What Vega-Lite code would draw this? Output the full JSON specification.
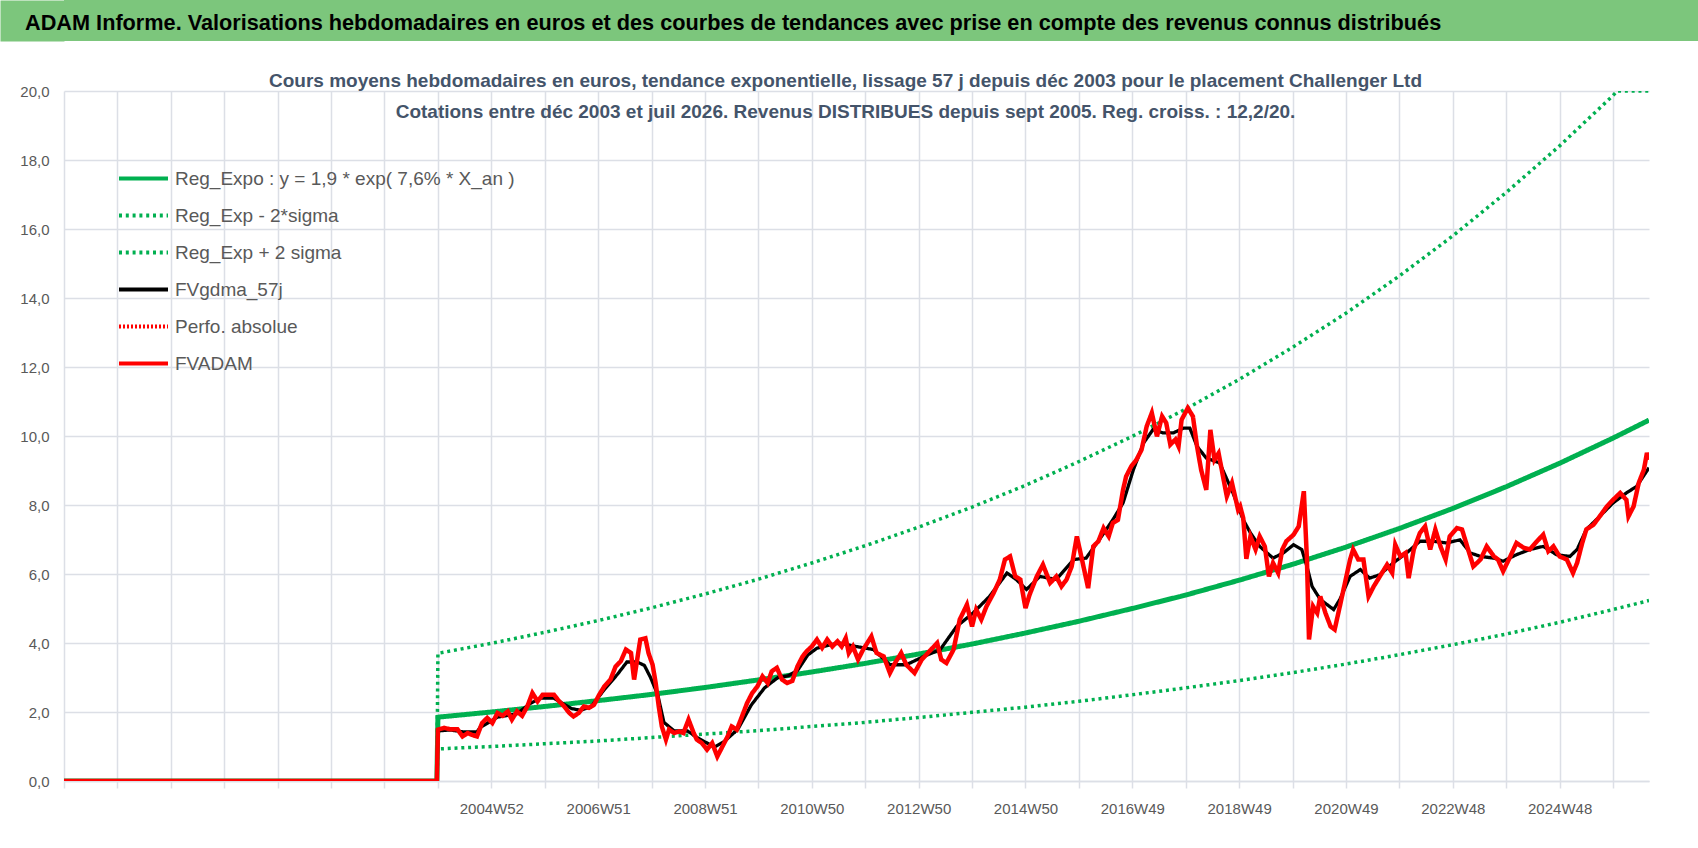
{
  "$schema": "https://vega.github.io/schema/vega-lite/v6.json",
  "padding": 0,
  "background": "white",
  "bounds": "flush",
  "spacing": 50,
  "vconcat": [
    {
      "width": 1634,
      "height": 41,
      "view": {"fill": "#7cc67c", "stroke": null},
      "data": {"values": [{"label": "ADAM Informe. Valorisations hebdomadaires en euros et des courbes de tendances avec prise en compte des revenus connus distribués"}]},
      "mark": {"type": "text", "align": "center", "baseline": "middle", "fontSize": 21.7, "fontWeight": "bold", "color": "#000000"},
      "encoding": {
        "text": {"field": "label", "type": "nominal"},
        "x": {"datum": -0.181, "type": "quantitative", "scale": {"domain": [-1, 1]}, "axis": null},
        "y": {
          "datum": -0.14,
          "type": "quantitative",
          "title": null,
          "scale": {"domain": [-1, 1]},
          "axis": {"orient": "left", "domain": true, "domainColor": "#7cc67c", "domainWidth": 64, "offset": 32, "labels": false, "ticks": false, "grid": false}
        }
      }
    },
    {
      "width": 1585,
      "height": 690,
      "title": {
        "text": [
          "Cours moyens hebdomadaires en euros, tendance exponentielle, lissage 57 j depuis déc 2003 pour le placement Challenger Ltd",
          "Cotations entre déc 2003 et juil 2026. Revenus DISTRIBUES depuis sept 2005. Reg. croiss. : 12,2/20."
        ],
        "orient": "top",
        "anchor": "middle",
        "frame": "group",
        "offset": -53.5,
        "dx": -11,
        "baseline": "alphabetic",
        "lineHeight": 31.3,
        "fontSize": 19,
        "fontWeight": "bold",
        "color": "#44546a"
      },
      "data": {
        "values": [
          {"s": "Reg_Exp + 2 sigma", "w": 0, "v": 0},
          {"s": "Reg_Exp + 2 sigma", "w": 363, "v": 0},
          {"s": "Reg_Exp + 2 sigma", "w": 364, "v": 3.7},
          {"s": "Reg_Exp + 2 sigma", "w": 416, "v": 3.99},
          {"s": "Reg_Exp + 2 sigma", "w": 468, "v": 4.31},
          {"s": "Reg_Exp + 2 sigma", "w": 520, "v": 4.65},
          {"s": "Reg_Exp + 2 sigma", "w": 572, "v": 5.02},
          {"s": "Reg_Exp + 2 sigma", "w": 624, "v": 5.42},
          {"s": "Reg_Exp + 2 sigma", "w": 676, "v": 5.85},
          {"s": "Reg_Exp + 2 sigma", "w": 728, "v": 6.32},
          {"s": "Reg_Exp + 2 sigma", "w": 780, "v": 6.82},
          {"s": "Reg_Exp + 2 sigma", "w": 832, "v": 7.36},
          {"s": "Reg_Exp + 2 sigma", "w": 884, "v": 7.94},
          {"s": "Reg_Exp + 2 sigma", "w": 936, "v": 8.57},
          {"s": "Reg_Exp + 2 sigma", "w": 988, "v": 9.26},
          {"s": "Reg_Exp + 2 sigma", "w": 1040, "v": 9.99},
          {"s": "Reg_Exp + 2 sigma", "w": 1092, "v": 10.78},
          {"s": "Reg_Exp + 2 sigma", "w": 1144, "v": 11.64},
          {"s": "Reg_Exp + 2 sigma", "w": 1196, "v": 12.57},
          {"s": "Reg_Exp + 2 sigma", "w": 1248, "v": 13.56},
          {"s": "Reg_Exp + 2 sigma", "w": 1300, "v": 14.64},
          {"s": "Reg_Exp + 2 sigma", "w": 1352, "v": 15.8},
          {"s": "Reg_Exp + 2 sigma", "w": 1404, "v": 17.06},
          {"s": "Reg_Exp + 2 sigma", "w": 1456, "v": 18.41},
          {"s": "Reg_Exp + 2 sigma", "w": 1508, "v": 19.87},
          {"s": "Reg_Exp + 2 sigma", "w": 1512, "v": 20},
          {"s": "Reg_Exp + 2 sigma", "w": 1543, "v": 20},
          {"s": "Reg_Exp - 2*sigma", "w": 0, "v": 0},
          {"s": "Reg_Exp - 2*sigma", "w": 363, "v": 0},
          {"s": "Reg_Exp - 2*sigma", "w": 364, "v": 0.93},
          {"s": "Reg_Exp - 2*sigma", "w": 416, "v": 1.0},
          {"s": "Reg_Exp - 2*sigma", "w": 468, "v": 1.08},
          {"s": "Reg_Exp - 2*sigma", "w": 520, "v": 1.16},
          {"s": "Reg_Exp - 2*sigma", "w": 572, "v": 1.26},
          {"s": "Reg_Exp - 2*sigma", "w": 624, "v": 1.36},
          {"s": "Reg_Exp - 2*sigma", "w": 676, "v": 1.46},
          {"s": "Reg_Exp - 2*sigma", "w": 728, "v": 1.58},
          {"s": "Reg_Exp - 2*sigma", "w": 780, "v": 1.7},
          {"s": "Reg_Exp - 2*sigma", "w": 832, "v": 1.84},
          {"s": "Reg_Exp - 2*sigma", "w": 884, "v": 1.99},
          {"s": "Reg_Exp - 2*sigma", "w": 936, "v": 2.14},
          {"s": "Reg_Exp - 2*sigma", "w": 988, "v": 2.31},
          {"s": "Reg_Exp - 2*sigma", "w": 1040, "v": 2.5},
          {"s": "Reg_Exp - 2*sigma", "w": 1092, "v": 2.7},
          {"s": "Reg_Exp - 2*sigma", "w": 1144, "v": 2.91},
          {"s": "Reg_Exp - 2*sigma", "w": 1196, "v": 3.14},
          {"s": "Reg_Exp - 2*sigma", "w": 1248, "v": 3.39},
          {"s": "Reg_Exp - 2*sigma", "w": 1300, "v": 3.66},
          {"s": "Reg_Exp - 2*sigma", "w": 1352, "v": 3.95},
          {"s": "Reg_Exp - 2*sigma", "w": 1404, "v": 4.26},
          {"s": "Reg_Exp - 2*sigma", "w": 1456, "v": 4.6},
          {"s": "Reg_Exp - 2*sigma", "w": 1508, "v": 4.97},
          {"s": "Reg_Exp - 2*sigma", "w": 1543, "v": 5.23},
          {"s": "Reg_Expo : y = 1,9 * exp( 7,6% *  X_an )", "w": 0, "v": 0},
          {"s": "Reg_Expo : y = 1,9 * exp( 7,6% *  X_an )", "w": 363, "v": 0},
          {"s": "Reg_Expo : y = 1,9 * exp( 7,6% *  X_an )", "w": 364, "v": 1.85},
          {"s": "Reg_Expo : y = 1,9 * exp( 7,6% *  X_an )", "w": 416, "v": 2.0},
          {"s": "Reg_Expo : y = 1,9 * exp( 7,6% *  X_an )", "w": 468, "v": 2.16},
          {"s": "Reg_Expo : y = 1,9 * exp( 7,6% *  X_an )", "w": 520, "v": 2.33},
          {"s": "Reg_Expo : y = 1,9 * exp( 7,6% *  X_an )", "w": 572, "v": 2.51},
          {"s": "Reg_Expo : y = 1,9 * exp( 7,6% *  X_an )", "w": 624, "v": 2.71},
          {"s": "Reg_Expo : y = 1,9 * exp( 7,6% *  X_an )", "w": 676, "v": 2.93},
          {"s": "Reg_Expo : y = 1,9 * exp( 7,6% *  X_an )", "w": 728, "v": 3.16},
          {"s": "Reg_Expo : y = 1,9 * exp( 7,6% *  X_an )", "w": 780, "v": 3.41},
          {"s": "Reg_Expo : y = 1,9 * exp( 7,6% *  X_an )", "w": 832, "v": 3.68},
          {"s": "Reg_Expo : y = 1,9 * exp( 7,6% *  X_an )", "w": 884, "v": 3.97},
          {"s": "Reg_Expo : y = 1,9 * exp( 7,6% *  X_an )", "w": 936, "v": 4.29},
          {"s": "Reg_Expo : y = 1,9 * exp( 7,6% *  X_an )", "w": 988, "v": 4.63},
          {"s": "Reg_Expo : y = 1,9 * exp( 7,6% *  X_an )", "w": 1040, "v": 5.0},
          {"s": "Reg_Expo : y = 1,9 * exp( 7,6% *  X_an )", "w": 1092, "v": 5.39},
          {"s": "Reg_Expo : y = 1,9 * exp( 7,6% *  X_an )", "w": 1144, "v": 5.82},
          {"s": "Reg_Expo : y = 1,9 * exp( 7,6% *  X_an )", "w": 1196, "v": 6.28},
          {"s": "Reg_Expo : y = 1,9 * exp( 7,6% *  X_an )", "w": 1248, "v": 6.78},
          {"s": "Reg_Expo : y = 1,9 * exp( 7,6% *  X_an )", "w": 1300, "v": 7.32},
          {"s": "Reg_Expo : y = 1,9 * exp( 7,6% *  X_an )", "w": 1352, "v": 7.9},
          {"s": "Reg_Expo : y = 1,9 * exp( 7,6% *  X_an )", "w": 1404, "v": 8.53},
          {"s": "Reg_Expo : y = 1,9 * exp( 7,6% *  X_an )", "w": 1456, "v": 9.21},
          {"s": "Reg_Expo : y = 1,9 * exp( 7,6% *  X_an )", "w": 1508, "v": 9.94},
          {"s": "Reg_Expo : y = 1,9 * exp( 7,6% *  X_an )", "w": 1543, "v": 10.46},
          {"s": "FVgdma_57j", "w": 0, "v": 0},
          {"s": "FVgdma_57j", "w": 363, "v": 0},
          {"s": "FVgdma_57j", "w": 364, "v": 1.45},
          {"s": "FVgdma_57j", "w": 376, "v": 1.48},
          {"s": "FVgdma_57j", "w": 389, "v": 1.42},
          {"s": "FVgdma_57j", "w": 402, "v": 1.42},
          {"s": "FVgdma_57j", "w": 405, "v": 1.55},
          {"s": "FVgdma_57j", "w": 422, "v": 1.85},
          {"s": "FVgdma_57j", "w": 441, "v": 1.95},
          {"s": "FVgdma_57j", "w": 454, "v": 2.25},
          {"s": "FVgdma_57j", "w": 464, "v": 2.4},
          {"s": "FVgdma_57j", "w": 477, "v": 2.4},
          {"s": "FVgdma_57j", "w": 494, "v": 2.1},
          {"s": "FVgdma_57j", "w": 503, "v": 2.05},
          {"s": "FVgdma_57j", "w": 513, "v": 2.15},
          {"s": "FVgdma_57j", "w": 526, "v": 2.65},
          {"s": "FVgdma_57j", "w": 539, "v": 3.1},
          {"s": "FVgdma_57j", "w": 548, "v": 3.45},
          {"s": "FVgdma_57j", "w": 558, "v": 3.45},
          {"s": "FVgdma_57j", "w": 565, "v": 3.35},
          {"s": "FVgdma_57j", "w": 571, "v": 3.0},
          {"s": "FVgdma_57j", "w": 578, "v": 2.5},
          {"s": "FVgdma_57j", "w": 584, "v": 1.7},
          {"s": "FVgdma_57j", "w": 594, "v": 1.45},
          {"s": "FVgdma_57j", "w": 607, "v": 1.45},
          {"s": "FVgdma_57j", "w": 617, "v": 1.25},
          {"s": "FVgdma_57j", "w": 626, "v": 1.1},
          {"s": "FVgdma_57j", "w": 633, "v": 0.98},
          {"s": "FVgdma_57j", "w": 643, "v": 1.15},
          {"s": "FVgdma_57j", "w": 656, "v": 1.5},
          {"s": "FVgdma_57j", "w": 669, "v": 2.2},
          {"s": "FVgdma_57j", "w": 682, "v": 2.7},
          {"s": "FVgdma_57j", "w": 695, "v": 3.0},
          {"s": "FVgdma_57j", "w": 705, "v": 3.05},
          {"s": "FVgdma_57j", "w": 714, "v": 3.2},
          {"s": "FVgdma_57j", "w": 724, "v": 3.65},
          {"s": "FVgdma_57j", "w": 733, "v": 3.85},
          {"s": "FVgdma_57j", "w": 746, "v": 3.95},
          {"s": "FVgdma_57j", "w": 755, "v": 4.0},
          {"s": "FVgdma_57j", "w": 771, "v": 3.9},
          {"s": "FVgdma_57j", "w": 788, "v": 3.81},
          {"s": "FVgdma_57j", "w": 804, "v": 3.37},
          {"s": "FVgdma_57j", "w": 820, "v": 3.37},
          {"s": "FVgdma_57j", "w": 837, "v": 3.61},
          {"s": "FVgdma_57j", "w": 853, "v": 3.81},
          {"s": "FVgdma_57j", "w": 869, "v": 4.48},
          {"s": "FVgdma_57j", "w": 885, "v": 4.87},
          {"s": "FVgdma_57j", "w": 901, "v": 5.35},
          {"s": "FVgdma_57j", "w": 918, "v": 6.03},
          {"s": "FVgdma_57j", "w": 927, "v": 5.84},
          {"s": "FVgdma_57j", "w": 937, "v": 5.55},
          {"s": "FVgdma_57j", "w": 950, "v": 5.93},
          {"s": "FVgdma_57j", "w": 966, "v": 5.84},
          {"s": "FVgdma_57j", "w": 983, "v": 6.42},
          {"s": "FVgdma_57j", "w": 995, "v": 6.46},
          {"s": "FVgdma_57j", "w": 1008, "v": 7.0},
          {"s": "FVgdma_57j", "w": 1021, "v": 7.57},
          {"s": "FVgdma_57j", "w": 1031, "v": 8.06},
          {"s": "FVgdma_57j", "w": 1041, "v": 9.02},
          {"s": "FVgdma_57j", "w": 1051, "v": 9.8},
          {"s": "FVgdma_57j", "w": 1060, "v": 10.18},
          {"s": "FVgdma_57j", "w": 1070, "v": 10.09},
          {"s": "FVgdma_57j", "w": 1080, "v": 10.09},
          {"s": "FVgdma_57j", "w": 1090, "v": 10.23},
          {"s": "FVgdma_57j", "w": 1096, "v": 10.23},
          {"s": "FVgdma_57j", "w": 1103, "v": 9.7},
          {"s": "FVgdma_57j", "w": 1112, "v": 9.36},
          {"s": "FVgdma_57j", "w": 1125, "v": 9.22},
          {"s": "FVgdma_57j", "w": 1138, "v": 8.35},
          {"s": "FVgdma_57j", "w": 1148, "v": 7.57},
          {"s": "FVgdma_57j", "w": 1155, "v": 7.19},
          {"s": "FVgdma_57j", "w": 1164, "v": 6.8},
          {"s": "FVgdma_57j", "w": 1177, "v": 6.46},
          {"s": "FVgdma_57j", "w": 1187, "v": 6.61},
          {"s": "FVgdma_57j", "w": 1197, "v": 6.85},
          {"s": "FVgdma_57j", "w": 1205, "v": 6.71},
          {"s": "FVgdma_57j", "w": 1210, "v": 6.22},
          {"s": "FVgdma_57j", "w": 1215, "v": 5.64},
          {"s": "FVgdma_57j", "w": 1223, "v": 5.26},
          {"s": "FVgdma_57j", "w": 1236, "v": 4.97},
          {"s": "FVgdma_57j", "w": 1242, "v": 5.26},
          {"s": "FVgdma_57j", "w": 1252, "v": 5.93},
          {"s": "FVgdma_57j", "w": 1262, "v": 6.13},
          {"s": "FVgdma_57j", "w": 1271, "v": 5.88},
          {"s": "FVgdma_57j", "w": 1281, "v": 5.98},
          {"s": "FVgdma_57j", "w": 1294, "v": 6.32},
          {"s": "FVgdma_57j", "w": 1307, "v": 6.61},
          {"s": "FVgdma_57j", "w": 1320, "v": 6.95},
          {"s": "FVgdma_57j", "w": 1333, "v": 6.95},
          {"s": "FVgdma_57j", "w": 1346, "v": 6.9},
          {"s": "FVgdma_57j", "w": 1359, "v": 6.99},
          {"s": "FVgdma_57j", "w": 1369, "v": 6.61},
          {"s": "FVgdma_57j", "w": 1379, "v": 6.51},
          {"s": "FVgdma_57j", "w": 1392, "v": 6.46},
          {"s": "FVgdma_57j", "w": 1401, "v": 6.37},
          {"s": "FVgdma_57j", "w": 1414, "v": 6.56},
          {"s": "FVgdma_57j", "w": 1427, "v": 6.71},
          {"s": "FVgdma_57j", "w": 1440, "v": 6.8},
          {"s": "FVgdma_57j", "w": 1453, "v": 6.56},
          {"s": "FVgdma_57j", "w": 1466, "v": 6.51},
          {"s": "FVgdma_57j", "w": 1473, "v": 6.71},
          {"s": "FVgdma_57j", "w": 1482, "v": 7.29},
          {"s": "FVgdma_57j", "w": 1495, "v": 7.67},
          {"s": "FVgdma_57j", "w": 1508, "v": 8.06},
          {"s": "FVgdma_57j", "w": 1521, "v": 8.35},
          {"s": "FVgdma_57j", "w": 1531, "v": 8.54},
          {"s": "FVgdma_57j", "w": 1543, "v": 9.08},
          {"s": "FVADAM", "w": 0, "v": 0},
          {"s": "FVADAM", "w": 363, "v": 0},
          {"s": "FVADAM", "w": 364, "v": 1.49},
          {"s": "FVADAM", "w": 370, "v": 1.54},
          {"s": "FVADAM", "w": 376, "v": 1.5},
          {"s": "FVADAM", "w": 383, "v": 1.5},
          {"s": "FVADAM", "w": 388, "v": 1.29},
          {"s": "FVADAM", "w": 393, "v": 1.39},
          {"s": "FVADAM", "w": 397, "v": 1.34},
          {"s": "FVADAM", "w": 402, "v": 1.29},
          {"s": "FVADAM", "w": 407, "v": 1.68},
          {"s": "FVADAM", "w": 412, "v": 1.83},
          {"s": "FVADAM", "w": 417, "v": 1.68},
          {"s": "FVADAM", "w": 422, "v": 1.97},
          {"s": "FVADAM", "w": 427, "v": 1.89},
          {"s": "FVADAM", "w": 432, "v": 2.02},
          {"s": "FVADAM", "w": 436, "v": 1.78},
          {"s": "FVADAM", "w": 441, "v": 2.02},
          {"s": "FVADAM", "w": 446, "v": 1.89},
          {"s": "FVADAM", "w": 451, "v": 2.16},
          {"s": "FVADAM", "w": 456, "v": 2.55},
          {"s": "FVADAM", "w": 461, "v": 2.31},
          {"s": "FVADAM", "w": 466, "v": 2.5},
          {"s": "FVADAM", "w": 470, "v": 2.5},
          {"s": "FVADAM", "w": 477, "v": 2.5},
          {"s": "FVADAM", "w": 482, "v": 2.31},
          {"s": "FVADAM", "w": 487, "v": 2.16},
          {"s": "FVADAM", "w": 492, "v": 1.97},
          {"s": "FVADAM", "w": 496, "v": 1.87},
          {"s": "FVADAM", "w": 501, "v": 1.97},
          {"s": "FVADAM", "w": 506, "v": 2.16},
          {"s": "FVADAM", "w": 511, "v": 2.12},
          {"s": "FVADAM", "w": 516, "v": 2.21},
          {"s": "FVADAM", "w": 521, "v": 2.5},
          {"s": "FVADAM", "w": 526, "v": 2.74},
          {"s": "FVADAM", "w": 532, "v": 2.94},
          {"s": "FVADAM", "w": 537, "v": 3.32},
          {"s": "FVADAM", "w": 542, "v": 3.47},
          {"s": "FVADAM", "w": 547, "v": 3.81},
          {"s": "FVADAM", "w": 552, "v": 3.71},
          {"s": "FVADAM", "w": 555, "v": 2.94},
          {"s": "FVADAM", "w": 558, "v": 3.52},
          {"s": "FVADAM", "w": 561, "v": 4.1},
          {"s": "FVADAM", "w": 566, "v": 4.14},
          {"s": "FVADAM", "w": 569, "v": 3.71},
          {"s": "FVADAM", "w": 573, "v": 3.37},
          {"s": "FVADAM", "w": 576, "v": 2.84},
          {"s": "FVADAM", "w": 579, "v": 2.16},
          {"s": "FVADAM", "w": 582, "v": 1.58},
          {"s": "FVADAM", "w": 586, "v": 1.2},
          {"s": "FVADAM", "w": 589, "v": 1.49},
          {"s": "FVADAM", "w": 594, "v": 1.39},
          {"s": "FVADAM", "w": 599, "v": 1.44},
          {"s": "FVADAM", "w": 603, "v": 1.39},
          {"s": "FVADAM", "w": 608, "v": 1.78},
          {"s": "FVADAM", "w": 613, "v": 1.39},
          {"s": "FVADAM", "w": 616, "v": 1.2},
          {"s": "FVADAM", "w": 621, "v": 1.1},
          {"s": "FVADAM", "w": 626, "v": 0.91},
          {"s": "FVADAM", "w": 631, "v": 1.1},
          {"s": "FVADAM", "w": 636, "v": 0.71},
          {"s": "FVADAM", "w": 641, "v": 1.0},
          {"s": "FVADAM", "w": 646, "v": 1.29},
          {"s": "FVADAM", "w": 650, "v": 1.58},
          {"s": "FVADAM", "w": 655, "v": 1.49},
          {"s": "FVADAM", "w": 660, "v": 1.87},
          {"s": "FVADAM", "w": 665, "v": 2.26},
          {"s": "FVADAM", "w": 670, "v": 2.55},
          {"s": "FVADAM", "w": 675, "v": 2.74},
          {"s": "FVADAM", "w": 680, "v": 3.03},
          {"s": "FVADAM", "w": 685, "v": 2.84},
          {"s": "FVADAM", "w": 689, "v": 3.18},
          {"s": "FVADAM", "w": 694, "v": 3.28},
          {"s": "FVADAM", "w": 699, "v": 2.94},
          {"s": "FVADAM", "w": 704, "v": 2.84},
          {"s": "FVADAM", "w": 709, "v": 2.9},
          {"s": "FVADAM", "w": 714, "v": 3.32},
          {"s": "FVADAM", "w": 719, "v": 3.61},
          {"s": "FVADAM", "w": 723, "v": 3.76},
          {"s": "FVADAM", "w": 728, "v": 3.9},
          {"s": "FVADAM", "w": 733, "v": 4.1},
          {"s": "FVADAM", "w": 738, "v": 3.86},
          {"s": "FVADAM", "w": 743, "v": 4.1},
          {"s": "FVADAM", "w": 748, "v": 3.9},
          {"s": "FVADAM", "w": 753, "v": 4.05},
          {"s": "FVADAM", "w": 757, "v": 3.9},
          {"s": "FVADAM", "w": 761, "v": 4.14},
          {"s": "FVADAM", "w": 764, "v": 3.71},
          {"s": "FVADAM", "w": 768, "v": 3.9},
          {"s": "FVADAM", "w": 773, "v": 3.52},
          {"s": "FVADAM", "w": 778, "v": 3.81},
          {"s": "FVADAM", "w": 786, "v": 4.19},
          {"s": "FVADAM", "w": 791, "v": 3.71},
          {"s": "FVADAM", "w": 798, "v": 3.61},
          {"s": "FVADAM", "w": 804, "v": 3.13},
          {"s": "FVADAM", "w": 809, "v": 3.42},
          {"s": "FVADAM", "w": 815, "v": 3.71},
          {"s": "FVADAM", "w": 820, "v": 3.37},
          {"s": "FVADAM", "w": 828, "v": 3.13},
          {"s": "FVADAM", "w": 835, "v": 3.52},
          {"s": "FVADAM", "w": 841, "v": 3.71},
          {"s": "FVADAM", "w": 850, "v": 4.0},
          {"s": "FVADAM", "w": 854, "v": 3.52},
          {"s": "FVADAM", "w": 859, "v": 3.42},
          {"s": "FVADAM", "w": 866, "v": 3.81},
          {"s": "FVADAM", "w": 872, "v": 4.68},
          {"s": "FVADAM", "w": 879, "v": 5.11},
          {"s": "FVADAM", "w": 884, "v": 4.48},
          {"s": "FVADAM", "w": 888, "v": 4.97},
          {"s": "FVADAM", "w": 893, "v": 4.68},
          {"s": "FVADAM", "w": 898, "v": 5.06},
          {"s": "FVADAM", "w": 905, "v": 5.45},
          {"s": "FVADAM", "w": 911, "v": 5.84},
          {"s": "FVADAM", "w": 916, "v": 6.42},
          {"s": "FVADAM", "w": 921, "v": 6.51},
          {"s": "FVADAM", "w": 926, "v": 5.93},
          {"s": "FVADAM", "w": 931, "v": 5.84},
          {"s": "FVADAM", "w": 936, "v": 5.01},
          {"s": "FVADAM", "w": 940, "v": 5.4},
          {"s": "FVADAM", "w": 947, "v": 5.93},
          {"s": "FVADAM", "w": 953, "v": 6.27},
          {"s": "FVADAM", "w": 960, "v": 5.74},
          {"s": "FVADAM", "w": 966, "v": 5.93},
          {"s": "FVADAM", "w": 971, "v": 5.64},
          {"s": "FVADAM", "w": 976, "v": 5.84},
          {"s": "FVADAM", "w": 981, "v": 6.22},
          {"s": "FVADAM", "w": 986, "v": 7.09},
          {"s": "FVADAM", "w": 991, "v": 6.42},
          {"s": "FVADAM", "w": 997, "v": 5.59},
          {"s": "FVADAM", "w": 1002, "v": 6.8},
          {"s": "FVADAM", "w": 1007, "v": 6.95},
          {"s": "FVADAM", "w": 1012, "v": 7.33},
          {"s": "FVADAM", "w": 1017, "v": 7.09},
          {"s": "FVADAM", "w": 1021, "v": 7.48},
          {"s": "FVADAM", "w": 1026, "v": 7.57},
          {"s": "FVADAM", "w": 1031, "v": 8.44},
          {"s": "FVADAM", "w": 1034, "v": 8.83},
          {"s": "FVADAM", "w": 1039, "v": 9.12},
          {"s": "FVADAM", "w": 1044, "v": 9.31},
          {"s": "FVADAM", "w": 1049, "v": 9.6},
          {"s": "FVADAM", "w": 1054, "v": 10.28},
          {"s": "FVADAM", "w": 1059, "v": 10.67},
          {"s": "FVADAM", "w": 1064, "v": 9.99},
          {"s": "FVADAM", "w": 1069, "v": 10.57},
          {"s": "FVADAM", "w": 1073, "v": 10.38},
          {"s": "FVADAM", "w": 1077, "v": 9.75},
          {"s": "FVADAM", "w": 1082, "v": 9.9},
          {"s": "FVADAM", "w": 1085, "v": 9.7},
          {"s": "FVADAM", "w": 1088, "v": 10.47},
          {"s": "FVADAM", "w": 1094, "v": 10.81},
          {"s": "FVADAM", "w": 1099, "v": 10.57},
          {"s": "FVADAM", "w": 1103, "v": 9.7},
          {"s": "FVADAM", "w": 1107, "v": 9.02},
          {"s": "FVADAM", "w": 1112, "v": 8.44},
          {"s": "FVADAM", "w": 1116, "v": 10.18},
          {"s": "FVADAM", "w": 1120, "v": 9.31},
          {"s": "FVADAM", "w": 1124, "v": 9.5},
          {"s": "FVADAM", "w": 1132, "v": 8.25},
          {"s": "FVADAM", "w": 1137, "v": 8.64},
          {"s": "FVADAM", "w": 1143, "v": 7.86},
          {"s": "FVADAM", "w": 1145, "v": 7.96},
          {"s": "FVADAM", "w": 1148, "v": 7.62},
          {"s": "FVADAM", "w": 1151, "v": 6.44},
          {"s": "FVADAM", "w": 1155, "v": 7.09},
          {"s": "FVADAM", "w": 1160, "v": 6.71},
          {"s": "FVADAM", "w": 1164, "v": 7.09},
          {"s": "FVADAM", "w": 1169, "v": 6.8},
          {"s": "FVADAM", "w": 1173, "v": 5.93},
          {"s": "FVADAM", "w": 1177, "v": 6.32},
          {"s": "FVADAM", "w": 1182, "v": 6.03},
          {"s": "FVADAM", "w": 1186, "v": 6.71},
          {"s": "FVADAM", "w": 1190, "v": 6.95},
          {"s": "FVADAM", "w": 1197, "v": 7.14},
          {"s": "FVADAM", "w": 1202, "v": 7.38},
          {"s": "FVADAM", "w": 1207, "v": 8.4},
          {"s": "FVADAM", "w": 1210, "v": 6.42},
          {"s": "FVADAM", "w": 1212, "v": 4.1},
          {"s": "FVADAM", "w": 1216, "v": 5.06},
          {"s": "FVADAM", "w": 1220, "v": 4.87},
          {"s": "FVADAM", "w": 1223, "v": 5.35},
          {"s": "FVADAM", "w": 1228, "v": 4.87},
          {"s": "FVADAM", "w": 1233, "v": 4.48},
          {"s": "FVADAM", "w": 1237, "v": 4.39},
          {"s": "FVADAM", "w": 1242, "v": 5.06},
          {"s": "FVADAM", "w": 1247, "v": 5.74},
          {"s": "FVADAM", "w": 1252, "v": 6.42},
          {"s": "FVADAM", "w": 1255, "v": 6.71},
          {"s": "FVADAM", "w": 1260, "v": 6.42},
          {"s": "FVADAM", "w": 1265, "v": 6.42},
          {"s": "FVADAM", "w": 1270, "v": 5.35},
          {"s": "FVADAM", "w": 1275, "v": 5.64},
          {"s": "FVADAM", "w": 1281, "v": 5.93},
          {"s": "FVADAM", "w": 1288, "v": 6.27},
          {"s": "FVADAM", "w": 1293, "v": 6.03},
          {"s": "FVADAM", "w": 1296, "v": 6.85},
          {"s": "FVADAM", "w": 1301, "v": 6.51},
          {"s": "FVADAM", "w": 1306, "v": 6.61},
          {"s": "FVADAM", "w": 1309, "v": 5.88},
          {"s": "FVADAM", "w": 1314, "v": 6.71},
          {"s": "FVADAM", "w": 1320, "v": 7.19},
          {"s": "FVADAM", "w": 1325, "v": 7.38},
          {"s": "FVADAM", "w": 1330, "v": 6.71},
          {"s": "FVADAM", "w": 1335, "v": 7.29},
          {"s": "FVADAM", "w": 1340, "v": 6.8},
          {"s": "FVADAM", "w": 1345, "v": 6.42},
          {"s": "FVADAM", "w": 1349, "v": 7.09},
          {"s": "FVADAM", "w": 1356, "v": 7.33},
          {"s": "FVADAM", "w": 1361, "v": 7.29},
          {"s": "FVADAM", "w": 1366, "v": 6.8},
          {"s": "FVADAM", "w": 1372, "v": 6.22},
          {"s": "FVADAM", "w": 1379, "v": 6.42},
          {"s": "FVADAM", "w": 1385, "v": 6.8},
          {"s": "FVADAM", "w": 1392, "v": 6.51},
          {"s": "FVADAM", "w": 1396, "v": 6.42},
          {"s": "FVADAM", "w": 1401, "v": 6.08},
          {"s": "FVADAM", "w": 1408, "v": 6.51},
          {"s": "FVADAM", "w": 1414, "v": 6.9},
          {"s": "FVADAM", "w": 1421, "v": 6.76},
          {"s": "FVADAM", "w": 1427, "v": 6.71},
          {"s": "FVADAM", "w": 1434, "v": 6.95},
          {"s": "FVADAM", "w": 1440, "v": 7.14},
          {"s": "FVADAM", "w": 1445, "v": 6.66},
          {"s": "FVADAM", "w": 1450, "v": 6.8},
          {"s": "FVADAM", "w": 1456, "v": 6.51},
          {"s": "FVADAM", "w": 1463, "v": 6.42},
          {"s": "FVADAM", "w": 1469, "v": 6.03},
          {"s": "FVADAM", "w": 1473, "v": 6.32},
          {"s": "FVADAM", "w": 1478, "v": 6.9},
          {"s": "FVADAM", "w": 1482, "v": 7.29},
          {"s": "FVADAM", "w": 1489, "v": 7.43},
          {"s": "FVADAM", "w": 1495, "v": 7.67},
          {"s": "FVADAM", "w": 1502, "v": 7.96},
          {"s": "FVADAM", "w": 1508, "v": 8.15},
          {"s": "FVADAM", "w": 1515, "v": 8.35},
          {"s": "FVADAM", "w": 1521, "v": 8.15},
          {"s": "FVADAM", "w": 1523, "v": 7.67},
          {"s": "FVADAM", "w": 1528, "v": 7.96},
          {"s": "FVADAM", "w": 1533, "v": 8.64},
          {"s": "FVADAM", "w": 1538, "v": 9.02},
          {"s": "FVADAM", "w": 1541, "v": 9.51},
          {"s": "FVADAM", "w": 1543, "v": 9.31}
        ]
      },
      "encoding": {
        "x": {
          "field": "w",
          "type": "quantitative",
          "title": null,
          "scale": {"domain": [0, 1543], "nice": false, "zero": false},
          "axis": {
            "values": [0, 52, 104, 156, 208, 260, 312, 364, 416, 468, 520, 572, 624, 676, 728, 780, 832, 884, 936, 988, 1040, 1092, 1144, 1196, 1248, 1300, 1352, 1404, 1456, 1508],
            "labelExpr": "datum.value >= 416 && (datum.value - 416) % 104 == 0 ? ['2004W52','2006W51','2008W51','2010W50','2012W50','2014W50','2016W49','2018W49','2020W49','2022W48','2024W48'][(datum.value - 416) / 104] : ''",
            "grid": true,
            "gridColor": "#dcdfe6",
            "gridWidth": 1.5,
            "ticks": true,
            "tickSize": 7,
            "tickColor": "#dcdfe6",
            "tickWidth": 1.5,
            "domain": true,
            "domainColor": "#dcdfe6",
            "domainWidth": 1.5,
            "labelFontSize": 15,
            "labelColor": "#595959",
            "labelPadding": 13,
            "labelOverlap": false,
            "labelFlush": false
          }
        },
        "y": {
          "field": "v",
          "type": "quantitative",
          "title": null,
          "scale": {"domain": [0, 20], "nice": false},
          "axis": {
            "values": [0, 2, 4, 6, 8, 10, 12, 14, 16, 18, 20],
            "labelExpr": "replace(format(datum.value, '.1f'), '.', ',')",
            "grid": true,
            "gridColor": "#dcdfe6",
            "gridWidth": 1.5,
            "ticks": false,
            "tickSize": 0,
            "domain": false,
            "labelFontSize": 15,
            "labelColor": "#595959",
            "labelPadding": 15,
            "minExtent": 64,
            "maxExtent": 64
          }
        },
        "color": {
          "field": "s",
          "type": "nominal",
          "title": null,
          "scale": {
            "domain": ["Reg_Expo : y = 1,9 * exp( 7,6% *  X_an )", "Reg_Exp - 2*sigma", "Reg_Exp + 2 sigma", "FVgdma_57j", "Perfo. absolue", "FVADAM"],
            "range": ["#00b050", "#00b050", "#00b050", "#000000", "#ff0000", "#ff0000"]
          }
        },
        "strokeDash": {
          "field": "s",
          "type": "nominal",
          "title": null,
          "scale": {
            "domain": ["Reg_Expo : y = 1,9 * exp( 7,6% *  X_an )", "Reg_Exp - 2*sigma", "Reg_Exp + 2 sigma", "FVgdma_57j", "Perfo. absolue", "FVADAM"],
            "range": [[1, 0], [3, 3.8], [3, 3.8], [1, 0], [2, 2], [1, 0]]
          }
        }
      },
      "layer": [
        {"transform": [{"filter": "datum.s == 'Reg_Exp + 2 sigma'"}], "mark": {"type": "line", "clip": true, "strokeWidth": 3.5}},
        {"transform": [{"filter": "datum.s == 'Reg_Exp - 2*sigma'"}], "mark": {"type": "line", "clip": true, "strokeWidth": 3.5}},
        {"transform": [{"filter": "indexof(datum.s, 'Reg_Expo') == 0"}], "mark": {"type": "line", "clip": true, "strokeWidth": 5}},
        {"transform": [{"filter": "datum.s == 'FVgdma_57j'"}], "mark": {"type": "line", "clip": true, "strokeWidth": 3.3}},
        {"transform": [{"filter": "datum.s == 'FVADAM'"}], "mark": {"type": "line", "clip": true, "strokeWidth": 4.5}}
      ]
    }
  ],
  "config": {
    "view": {"stroke": null},
    "font": "Liberation Sans, Arial, sans-serif",
    "legend": {
      "orient": "none",
      "legendX": 53,
      "legendY": 152,
      "padding": 0,
      "symbolType": "stroke",
      "symbolSize": 2401,
      "symbolStrokeWidth": 4,
      "labelFontSize": 19,
      "labelColor": "#595959",
      "labelOffset": 5,
      "labelLimit": 600,
      "rowPadding": -20
    }
  }
}
